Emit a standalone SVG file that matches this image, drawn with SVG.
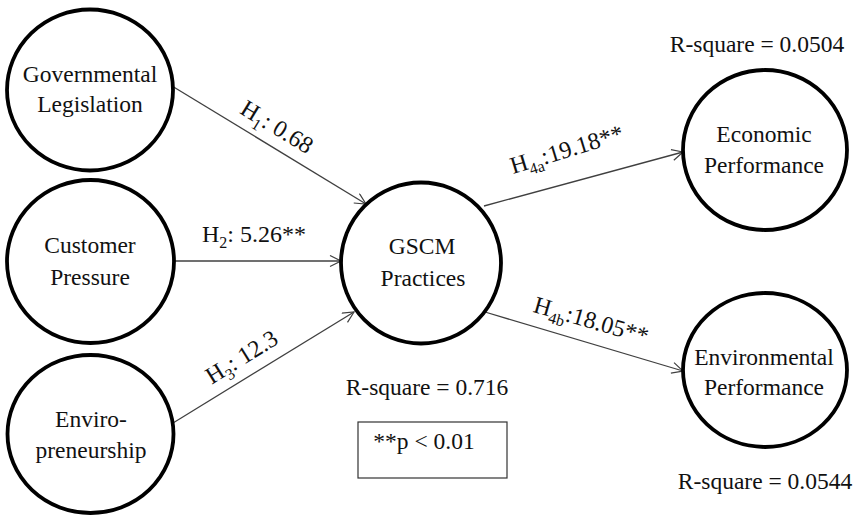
<svg xmlns="http://www.w3.org/2000/svg" width="859" height="515" viewBox="0 0 859 515">
<defs>
<marker id="arr" markerUnits="userSpaceOnUse" markerWidth="14" markerHeight="14" refX="12" refY="6" orient="auto">
<path d="M1,0.5 L12,6 L1,11.5" fill="none" stroke="#404040" stroke-width="1.2"/>
</marker>
</defs>
<style>
.node{fill:#fff;stroke:#000;stroke-width:3.8}
.t{font-family:"Liberation Serif","Times New Roman",serif;font-size:23.5px;fill:#111;text-anchor:middle}
.lab{font-family:"Liberation Serif","Times New Roman",serif;font-size:24px;fill:#111;text-anchor:middle}
.conn{stroke:#404040;stroke-width:1.3;fill:none;marker-end:url(#arr)}
.sub{font-size:16px}
</style>
<rect width="859" height="515" fill="#fff"/>
<g id="connectors">
<line class="conn" x1="172" y1="86" x2="366" y2="204"/>
<line class="conn" x1="174" y1="261" x2="341" y2="261"/>
<line class="conn" x1="173" y1="423" x2="354" y2="312"/>
<line class="conn" x1="484" y1="206" x2="683" y2="152"/>
<line class="conn" x1="485" y1="312" x2="683" y2="371"/>
</g>
<g id="labels">
<text class="lab" transform="translate(267,143) rotate(31.5)" y="-11">H<tspan class="sub" dy="6">1</tspan><tspan dy="-6">: 0.68</tspan></text>
<text class="lab" x="254" y="242">H<tspan class="sub" dy="6">2</tspan><tspan dy="-6">: 5.26**</tspan></text>
<text class="lab" transform="translate(252,374) rotate(-31.7)" y="-12">H<tspan class="sub" dy="6">3</tspan><tspan dy="-6">: 12.3</tspan></text>
<text class="lab" transform="translate(569,157) rotate(-17)">H<tspan class="sub" dy="6">4a</tspan><tspan dy="-6">:19.18**</tspan></text>
<text class="lab" transform="translate(589,328) rotate(16)">H<tspan class="sub" dy="6">4b</tspan><tspan dy="-6">:18.05**</tspan></text>
</g>
<g id="governmental">
<ellipse class="node" cx="90" cy="90" rx="83" ry="80.5"/>
<text class="t" x="90" y="82">Governmental</text>
<text class="t" x="90" y="112">Legislation</text>
</g>
<g id="customer">
<ellipse class="node" cx="90.5" cy="261.5" rx="83.5" ry="81.5"/>
<text class="t" x="90" y="253">Customer</text>
<text class="t" x="90" y="285">Pressure</text>
</g>
<g id="enviro">
<ellipse class="node" cx="90.5" cy="434" rx="83" ry="79"/>
<text class="t" x="91" y="427">Enviro-</text>
<text class="t" x="91" y="458">preneurship</text>
</g>
<g id="gscm">
<ellipse class="node" cx="421" cy="263" rx="80" ry="80.5"/>
<text class="t" x="422" y="254">GSCM</text>
<text class="t" x="423" y="286">Practices</text>
</g>
<g id="economic">
<ellipse class="node" cx="765" cy="150" rx="82" ry="80"/>
<text class="t" x="764" y="142">Economic</text>
<text class="t" x="764" y="173">Performance</text>
</g>
<g id="environmental">
<ellipse class="node" cx="765" cy="370" rx="82" ry="77"/>
<text class="t" x="764" y="365">Environmental</text>
<text class="t" x="764" y="395">Performance</text>
</g>
<g id="notes">
<text class="t" x="757" y="52">R-square = 0.0504</text>
<text class="t" x="765" y="489">R-square = 0.0544</text>
<text class="t" x="427" y="395">R-square = 0.716</text>
<rect x="358" y="422" width="149" height="56" fill="none" stroke="#333" stroke-width="1.2"/>
<text class="t" x="424" y="449">**p &lt; 0.01</text>
</g>
</svg>
